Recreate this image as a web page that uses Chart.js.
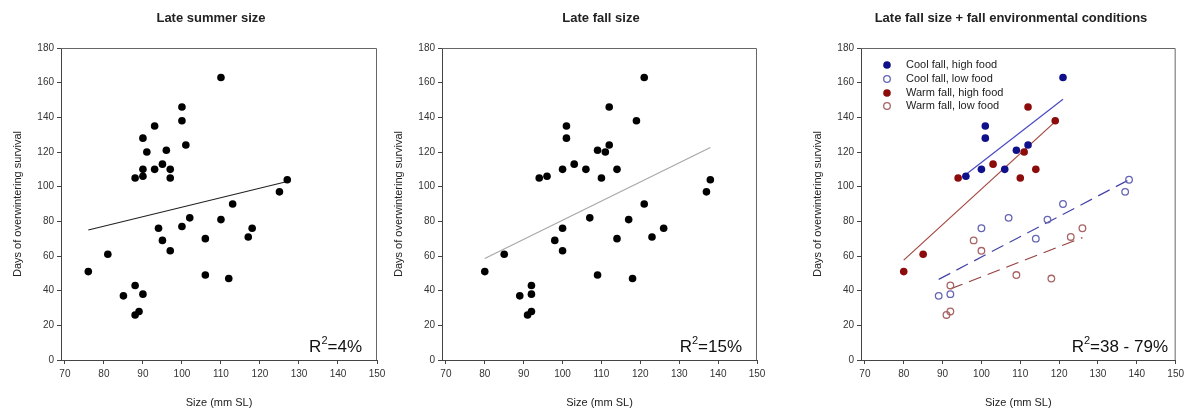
<!DOCTYPE html>
<html>
<head>
<meta charset="utf-8">
<script src="https://cdn.jsdelivr.net/npm/chart.js@4.4.1/dist/chart.umd.min.js"></script>
<style>
  body { margin: 0; background: #fff; }
  #wrap { position: relative; width: 1188px; height: 413px; overflow: hidden; }
  canvas { position: absolute; top: 0; }
</style>
</head>
<body>
<div id="wrap">
  <canvas id="c1" width="400" height="413" style="left:0px"></canvas>
  <canvas id="c2" width="400" height="413" style="left:380px"></canvas>
  <canvas id="c3" width="398" height="413" style="left:790px"></canvas>
</div>
<script>
// tick labels
var xTicks = [70, 80, 90, 100, 110, 120, 130, 140, 150];

// Panel 1 - late summer size
var summerSize = [76, 81, 85, 88, 88, 89, 90, 88, 90, 90, 90, 91, 93, 93, 94, 95, 95, 96, 97, 97, 97, 100, 100, 100, 101, 102, 106, 106, 110, 110, 112, 113, 117, 118, 125, 127];
var summerDays = [51, 61, 37, 43, 26, 28, 38, 105, 106, 110, 128, 120, 135, 110, 76, 113, 69, 121, 110, 105, 63, 146, 138, 77, 124, 82, 70, 49, 163, 81, 47, 90, 71, 76, 97, 104];
var summerFitX = [76, 127];
var summerFitY = [75, 103];

// Panel 2 - late fall size
var fallSize = [80, 85, 89, 91, 92, 92, 92, 94, 96, 98, 100, 100, 100, 101, 101, 103, 106, 107, 109, 109, 110, 111, 112, 112, 114, 114, 117, 118, 119, 121, 121, 123, 126, 137, 138];
var fallDays = [51, 61, 37, 26, 28, 38, 43, 105, 106, 69, 110, 76, 63, 135, 128, 113, 110, 82, 121, 49, 105, 120, 146, 124, 110, 70, 81, 47, 138, 163, 90, 71, 76, 97, 104];
var fallFitX = [80, 138];
var fallFitY = [58.6, 122.6];

// Panel 3 - late fall size by fall conditions
var coolHighSize = [96, 100, 101, 101, 106, 109, 112, 121];
var coolHighDays = [106, 110, 135, 128, 110, 121, 124, 163];
var coolLowSize = [89, 92, 100, 107, 114, 117, 121, 137, 138];
var coolLowDays = [37, 38, 76, 82, 70, 81, 90, 97, 104];
var warmHighSize = [80, 85, 94, 103, 110, 111, 112, 114, 119];
var warmHighDays = [51, 61, 105, 113, 105, 120, 146, 110, 138];
var warmLowSize = [91, 92, 92, 98, 100, 109, 118, 123, 126];
var warmLowDays = [26, 28, 43, 69, 63, 49, 47, 71, 76];

var coolHighFitX = [96, 121], coolHighFitY = [107, 150.4];
var coolLowFitX = [89, 138], coolLowFitY = [46.5, 104];
var warmHighFitX = [80, 119], warmHighFitY = [57.6, 137.5];
var warmLowFitX = [92, 126], warmLowFitY = [41, 70.6];

var groupNames = ['Cool fall, high food', 'Cool fall, low food', 'Warm fall, high food', 'Warm fall, low food'];

Chart.defaults.font.family = '"Liberation Sans", Arial, sans-serif';

function pts(xs, ys) {
  return xs.map(function (x, i) { return { x: x, y: ys[i] }; });
}

function dots(label, xs, ys, fill, border, filled) {
  return {
    label: label,
    data: pts(xs, ys),
    pointRadius: filled ? 3.8 : 3.3,
    pointBorderWidth: filled ? 0 : 1.3,
    backgroundColor: filled ? fill : 'rgba(0,0,0,0)',
    borderColor: border,
    showLine: false
  };
}

function fit(xs, ys, color, dash) {
  return {
    data: pts(xs, ys),
    showLine: true,
    borderColor: color,
    borderWidth: 1.2,
    borderDash: dash || [],
    pointRadius: 0,
    order: 1
  };
}

// frame, title, R² text and legend
var decor = {
  id: 'decor',
  afterDatasetsDraw: function (chart, args, o) {
    var a = chart.chartArea, ctx = chart.ctx;
    ctx.save();
    ctx.strokeStyle = '#666';
    ctx.lineWidth = 1;
    ctx.beginPath();
    ctx.moveTo(a.left, a.top + 0.5);
    ctx.lineTo(a.right - 0.5, a.top + 0.5);
    ctx.lineTo(a.right - 0.5, a.bottom);
    ctx.stroke();

    ctx.fillStyle = '#222';
    ctx.font = 'bold 13px "Liberation Sans", Arial, sans-serif';
    ctx.textAlign = 'center';
    ctx.textBaseline = 'middle';
    ctx.fillText(o.title, o.titleX, 18);

    // R² note, right aligned
    var big = '17px "Liberation Sans", Arial, sans-serif';
    var small = '11px "Liberation Sans", Arial, sans-serif';
    ctx.textAlign = 'left';
    ctx.textBaseline = 'alphabetic';
    ctx.font = big;
    var wR = ctx.measureText('R').width, wT = ctx.measureText(o.r2).width;
    ctx.font = small;
    var w2 = ctx.measureText('2').width;
    var x = o.r2X - (wR + w2 + wT);
    ctx.fillStyle = '#111';
    ctx.font = big;
    ctx.fillText('R', x, 352);
    ctx.font = small;
    ctx.fillText('2', x + wR, 344);
    ctx.font = big;
    ctx.fillText(o.r2, x + wR + w2, 352);

    if (o.legend) {
      ctx.font = '11px "Liberation Sans", Arial, sans-serif';
      ctx.textBaseline = 'middle';
      var rowY = [65, 79, 93, 106];
      chart.data.datasets.filter(function (d) { return d.label; }).forEach(function (d, i) {
        ctx.beginPath();
        ctx.arc(97, rowY[i], d.pointRadius, 0, Math.PI * 2);
        if (d.pointBorderWidth === 0) {
          ctx.fillStyle = d.backgroundColor;
          ctx.fill();
        } else {
          ctx.lineWidth = d.pointBorderWidth;
          ctx.strokeStyle = d.borderColor;
          ctx.stroke();
        }
        ctx.fillStyle = '#222';
        ctx.fillText(d.label, 116, rowY[i]);
      });
    }
    ctx.restore();
  }
};

function makeScales() {
  return {
    x: {
      type: 'linear', min: 69, max: 150,
      afterBuildTicks: function (s) { s.ticks = xTicks.map(function (v) { return { value: v }; }); },
      afterFit: function (s) { s.height = 53; },
      grid: { drawOnChartArea: false, drawTicks: true, tickLength: 4, color: '#444' },
      border: { color: '#444' },
      ticks: { color: '#333', font: { size: 10 }, padding: 4, maxRotation: 0, autoSkip: false },
      title: { display: true, text: 'Size (mm SL)', color: '#222', font: { size: 11 }, padding: { top: 0, bottom: 3 } }
    },
    y: {
      type: 'linear', min: 0, max: 180,
      afterFit: function (s) { s.width = 50; },
      grid: { drawOnChartArea: false, drawTicks: true, tickLength: 4, color: '#444' },
      border: { color: '#444' },
      ticks: { stepSize: 20, color: '#333', font: { size: 10 }, padding: 3 },
      title: { display: true, text: 'Days of overwintering survival', color: '#222', font: { size: 11 }, padding: { top: 0, bottom: 0 } }
    }
  };
}

function makeChart(id, datasets, pad, deco) {
  return new Chart(document.getElementById(id), {
    type: 'scatter',
    data: { datasets: datasets },
    options: {
      responsive: false,
      animation: false,
      layout: { padding: pad },
      scales: makeScales(),
      plugins: { legend: { display: false }, tooltip: { enabled: false }, decor: deco }
    },
    plugins: [decor]
  });
}

makeChart('c1', [
  dots(null, summerSize, summerDays, '#000', '#000', true),
  fit(summerFitX, summerFitY, '#222')
], { left: 11, right: 23, top: 48, bottom: 0 },
  { title: 'Late summer size', titleX: 211, r2: '=4%', r2X: 362 });

makeChart('c2', [
  dots(null, fallSize, fallDays, '#000', '#000', true),
  fit(fallFitX, fallFitY, '#a8a8a8')
], { left: 12, right: 23, top: 48, bottom: 0 },
  { title: 'Late fall size', titleX: 221, r2: '=15%', r2X: 362 });

makeChart('c3', [
  dots(groupNames[0], coolHighSize, coolHighDays, '#10108a', '#10108a', true),
  dots(groupNames[1], coolLowSize, coolLowDays, null, '#6464b4', false),
  dots(groupNames[2], warmHighSize, warmHighDays, '#8c0c0c', '#8c0c0c', true),
  dots(groupNames[3], warmLowSize, warmLowDays, null, '#a86464', false),
  fit(coolHighFitX, coolHighFitY, '#4a4ac4'),
  fit(coolLowFitX, coolLowFitY, '#4444a8', [13, 7]),
  fit(warmHighFitX, warmHighFitY, '#a4463f'),
  fit(warmLowFitX, warmLowFitY, '#964040', [13, 7])
], { left: 21, right: 11, top: 48, bottom: 0 },
  { title: 'Late fall size + fall environmental conditions', titleX: 221, r2: '=38 - 79%', r2X: 378, legend: true });
</script>
</body>
</html>
